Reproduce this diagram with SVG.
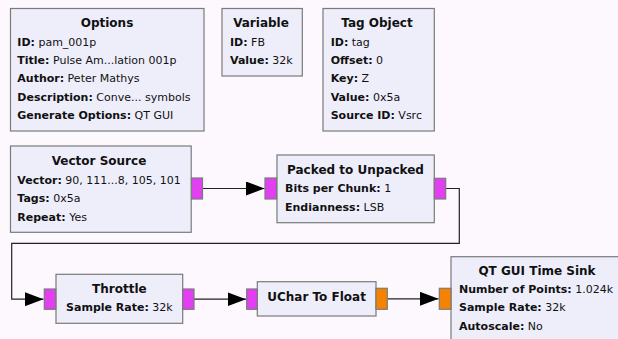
<svg xmlns="http://www.w3.org/2000/svg" width="618" height="339" viewBox="0 0 618 339">
  <defs>
    <style>
      .blk { fill: #eeeefb; stroke: #7a7a7a; stroke-width: 1.2; }
      .pb { fill: #e23ff3; stroke: #7a7a7a; stroke-width: 1.2; }
      .pf { fill: #f58200; stroke: #7a7a7a; stroke-width: 1.2; }
      .wire { fill: none; stroke: #222; stroke-width: 1.2; }
      text { font-family: "DejaVu Sans", "Liberation Sans", sans-serif; font-size: 11px; fill: #111; }
      .t { font-weight: bold; font-size: 12px; text-anchor: middle; }
      .k { font-weight: bold; }
    </style>
    <marker id="arrow" markerUnits="userSpaceOnUse" markerWidth="19" markerHeight="14" refX="18.5" refY="7" orient="auto">
      <path d="M0,0 L18.5,7 L0,14 Z" fill="#000"/>
    </marker>
  </defs>
  <rect width="618" height="339" fill="#fdf8fd"/>

  <g id="connectors">
    <path class="wire" d="M202.5,188.5 H264.5" marker-end="url(#arrow)"/>
    <path class="wire" d="M445.7,188.5 H459.3 V243.3 H11.7 V299.2 H43.5" marker-end="url(#arrow)"/>
    <path class="wire" d="M194,299.2 H246" marker-end="url(#arrow)"/>
    <path class="wire" d="M387.3,298.8 H438.5" marker-end="url(#arrow)"/>
  </g>

  <g id="options">
    <rect class="blk" x="10.5" y="8.5" width="193.5" height="122.5"/>
    <text class="t" x="107" y="26.5">Options</text>
    <text x="17.3" y="45.5"><tspan class="k">ID:</tspan> pam_001p</text>
    <text x="17.3" y="63.9"><tspan class="k">Title:</tspan> Pulse Am...lation 001p</text>
    <text x="17.3" y="82.2"><tspan class="k">Author:</tspan> Peter Mathys</text>
    <text x="17.3" y="100.5"><tspan class="k">Description:</tspan> Conve... symbols</text>
    <text x="17.3" y="118.9"><tspan class="k">Generate Options:</tspan> QT GUI</text>
  </g>

  <g id="variable">
    <rect class="blk" x="222" y="8.5" width="80.3" height="67.5"/>
    <text class="t" x="261" y="26.5">Variable</text>
    <text x="230" y="45.5"><tspan class="k">ID:</tspan> FB</text>
    <text x="230" y="63.9"><tspan class="k">Value:</tspan> 32k</text>
  </g>

  <g id="tag_object">
    <rect class="blk" x="323" y="8.5" width="111.3" height="122.5"/>
    <text class="t" x="377" y="26.5">Tag Object</text>
    <text x="330.7" y="45.5"><tspan class="k">ID:</tspan> tag</text>
    <text x="330.7" y="63.9"><tspan class="k">Offset:</tspan> 0</text>
    <text x="330.7" y="82.2"><tspan class="k">Key:</tspan> Z</text>
    <text x="330.7" y="100.5"><tspan class="k">Value:</tspan> 0x5a</text>
    <text x="330.7" y="118.9"><tspan class="k">Source ID:</tspan> Vsrc</text>
  </g>

  <g id="vector_source">
    <rect class="blk" x="10.5" y="146" width="180.7" height="86.3"/>
    <text class="t" x="99" y="164.7">Vector Source</text>
    <text x="17.3" y="183.9"><tspan class="k">Vector:</tspan> 90, 111...8, 105, 101</text>
    <text x="17.3" y="202.2"><tspan class="k">Tags:</tspan> 0x5a</text>
    <text x="17.3" y="220.5"><tspan class="k">Repeat:</tspan> Yes</text>
    <rect class="pb" x="191.5" y="178" width="11" height="21"/>
  </g>

  <g id="packed_to_unpacked">
    <rect class="blk" x="277" y="155" width="157.3" height="67.7"/>
    <text class="t" x="355.5" y="173.5">Packed to Unpacked</text>
    <text x="285" y="192.2"><tspan class="k">Bits per Chunk:</tspan> 1</text>
    <text x="285" y="210.5"><tspan class="k">Endianness:</tspan> LSB</text>
    <rect class="pb" x="265" y="178" width="11.5" height="21"/>
    <rect class="pb" x="434.3" y="178.3" width="11.4" height="20.7"/>
  </g>

  <g id="throttle">
    <rect class="blk" x="56" y="274.3" width="126.7" height="49"/>
    <text class="t" x="119.4" y="293.3">Throttle</text>
    <text x="119.4" y="311" text-anchor="middle"><tspan class="k">Sample Rate:</tspan> 32k</text>
    <rect class="pb" x="44.3" y="289" width="11.4" height="20.3"/>
    <rect class="pb" x="182.7" y="289" width="11.3" height="20.3"/>
  </g>

  <g id="uchar_to_float">
    <rect class="blk" x="257.3" y="281.7" width="118.7" height="34.3"/>
    <text class="t" x="316.6" y="301.3">UChar To Float</text>
    <rect class="pb" x="246.7" y="289" width="10.6" height="20.3"/>
    <rect class="pf" x="376" y="288.3" width="11.3" height="21"/>
  </g>

  <g id="qt_gui_time_sink">
    <rect class="blk" x="451" y="256.7" width="180" height="100"/>
    <text class="t" x="537" y="274.7">QT GUI Time Sink</text>
    <text x="459" y="293"><tspan class="k">Number of Points:</tspan> 1.024k</text>
    <text x="459" y="311.3"><tspan class="k">Sample Rate:</tspan> 32k</text>
    <text x="459" y="329.6"><tspan class="k">Autoscale:</tspan> No</text>
    <rect class="pf" x="439.3" y="288.3" width="11.7" height="21"/>
  </g>
</svg>
